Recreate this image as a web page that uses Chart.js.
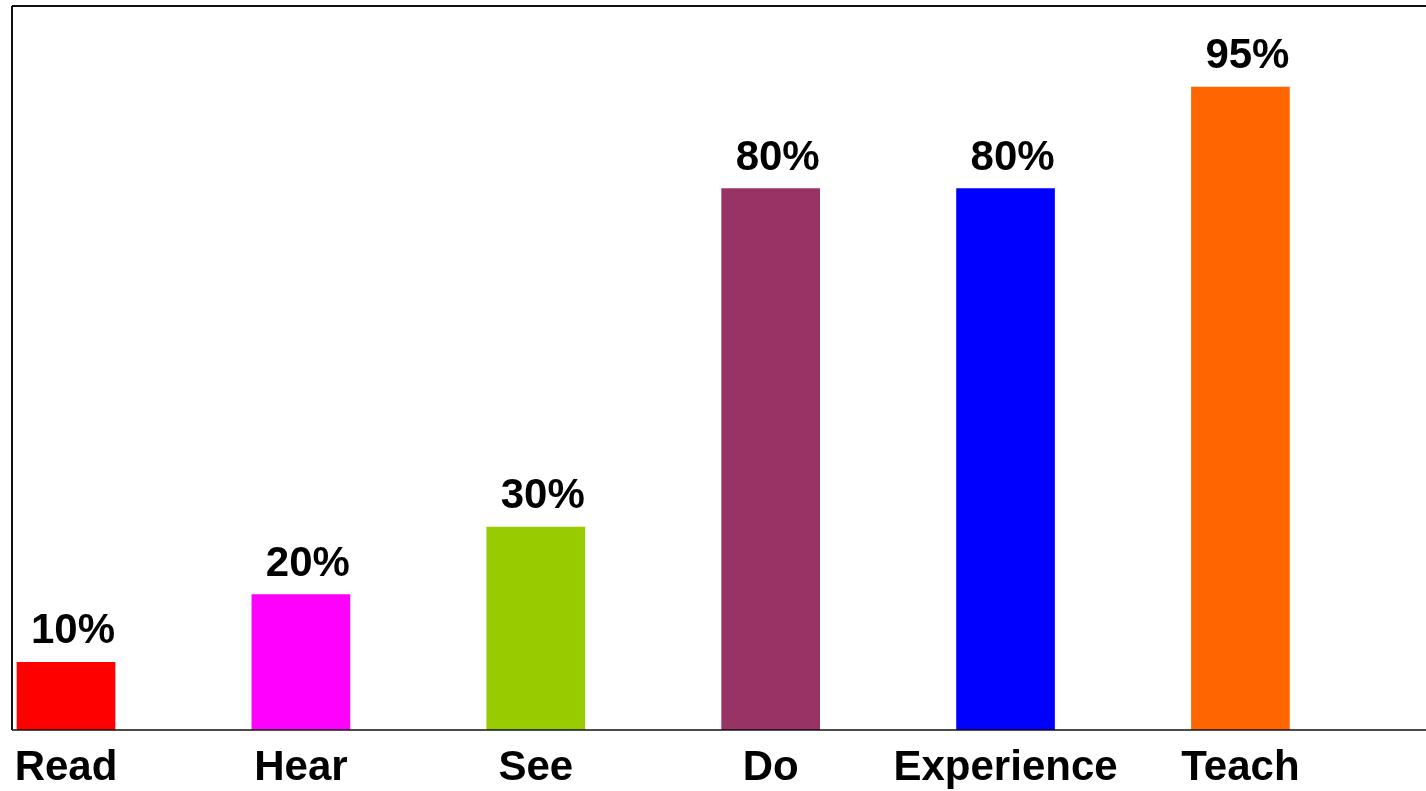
<!DOCTYPE html>
<html>
<head>
<meta charset="utf-8">
<script src="https://cdn.jsdelivr.net/npm/chart.js@4/dist/chart.umd.min.js"></script>
<style>
  html, body { margin: 0; padding: 0; background: #ffffff; }
  #wrap { width: 1426px; height: 791px; }
</style>
</head>
<body>
<div id="wrap"><canvas id="c" width="1426" height="791"></canvas></div>
<script>
const categories = ["Read", "Hear", "See", "Do", "Experience", "Teach"];
const values = [10, 20, 30, 80, 80, 95];
const valueLabels = ["10%", "20%", "30%", "80%", "80%", "95%"];
const colors = ["#FF0000", "#FF00FF", "#99CC00", "#993366", "#0000FF", "#FF6600"];

const FONT = "'Liberation Sans', Arial, sans-serif";

const frameAndLabels = {
  id: 'frameAndLabels',
  afterDatasetsDraw(chart) {
    const ctx = chart.ctx;
    const a = chart.chartArea;
    const meta = chart.getDatasetMeta(0);
    ctx.save();
    // value labels
    ctx.fillStyle = '#000000';
    ctx.font = 'bold 42px ' + FONT;
    ctx.textAlign = 'center';
    ctx.textBaseline = 'alphabetic';
    meta.data.forEach((bar, i) => {
      ctx.fillText(valueLabels[i], bar.x + 7, bar.y - 19);
    });
    // frame: top, left, bottom
    ctx.strokeStyle = '#111111';
    ctx.lineWidth = 2;
    ctx.beginPath();
    ctx.moveTo(a.left, a.top);
    ctx.lineTo(chart.width, a.top);
    ctx.moveTo(a.left, a.top);
    ctx.lineTo(a.left, a.bottom);
    ctx.stroke();
    ctx.lineWidth = 1.5;
    ctx.beginPath();
    ctx.moveTo(a.left, a.bottom);
    ctx.lineTo(chart.width, a.bottom);
    ctx.stroke();
    ctx.restore();
  }
};

new Chart(document.getElementById('c'), {
  type: 'bar',
  data: {
    datasets: [{
      data: values.map((v, i) => ({ x: i, y: v })),
      backgroundColor: colors,
      borderWidth: 0,
      barThickness: 98
    }]
  },
  options: {
    responsive: false,
    animation: false,
    events: [],
    layout: { padding: { left: 12, top: 6, right: 0, bottom: 0 } },
    plugins: {
      legend: { display: false },
      tooltip: { enabled: false },
      title: { display: false }
    },
    scales: {
      x: {
        type: 'linear',
        offset: false,
        bounds: 'ticks',
        min: -0.2299,
        max: 5.79,
        afterBuildTicks: s => { s.ticks = categories.map((_, i) => ({ value: i })); },
        afterFit: s => { s.height = 61; },
        grid: { display: false, drawTicks: false, offset: false },
        border: { display: false },
        ticks: {
          padding: 13,
          autoSkip: false,
          maxRotation: 0,
          color: '#000000',
          font: { family: FONT, size: 42, weight: 'bold' },
          callback: v => categories[v]
        }
      },
      y: {
        display: false,
        min: 0,
        max: 107,
        grid: { display: false }
      }
    }
  },
  plugins: [frameAndLabels]
});
</script>
</body>
</html>
